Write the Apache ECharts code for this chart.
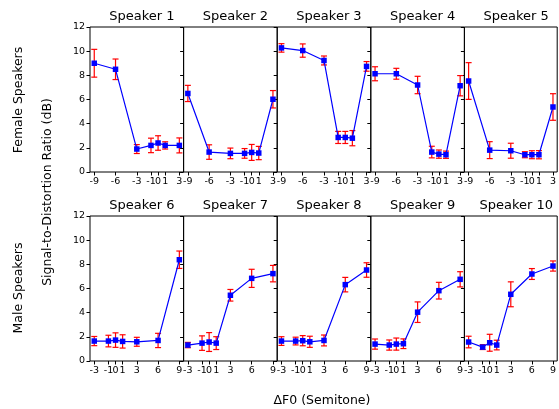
<!DOCTYPE html>
<html>
<head>
<meta charset="utf-8">
<script src="https://cdn.jsdelivr.net/npm/echarts@6/dist/echarts.min.js"></script>
<style>
  html, body { margin: 0; padding: 0; background: #fff; }
  #chart { width: 559px; height: 409px; }
</style>
</head>
<body>
<div id="chart"></div>
<script>
// semitone offsets
const xFemale = [-9, -6, -3, -1, 0, 1, 3];
const xMale = [-3, -1, 0, 1, 3, 6, 9];

// mean SDR (dB) and error half-width, per speaker
const spk1Mean = [9.0, 8.5, 1.9, 2.2, 2.4, 2.2, 2.2];
const spk1Err  = [1.15, 0.85, 0.37, 0.6, 0.6, 0.3, 0.62];
const spk2Mean = [6.5, 1.65, 1.54, 1.54, 1.62, 1.57, 6.02];
const spk2Err  = [0.67, 0.6, 0.44, 0.4, 0.66, 0.55, 0.72];
const spk3Mean = [10.27, 10.05, 9.23, 2.86, 2.86, 2.8, 8.74];
const spk3Err  = [0.35, 0.55, 0.37, 0.5, 0.5, 0.63, 0.4];
const spk4Mean = [8.13, 8.13, 7.2, 1.65, 1.48, 1.43, 7.14];
const spk4Err  = [0.58, 0.45, 0.72, 0.48, 0.34, 0.3, 0.84];
const spk5Mean = [7.53, 1.81, 1.76, 1.43, 1.43, 1.43, 5.38];
const spk5Err  = [1.52, 0.7, 0.62, 0.25, 0.33, 0.34, 1.1];
const spk6Mean = [1.65, 1.65, 1.73, 1.62, 1.59, 1.7, 8.38];
const spk6Err  = [0.38, 0.48, 0.6, 0.55, 0.37, 0.59, 0.72];
const spk7Mean = [1.32, 1.48, 1.57, 1.48, 5.44, 6.84, 7.23];
const spk7Err  = [0.22, 0.6, 0.78, 0.53, 0.48, 0.75, 0.68];
const spk8Mean = [1.65, 1.65, 1.68, 1.59, 1.7, 6.32, 7.53];
const spk8Err  = [0.36, 0.32, 0.42, 0.46, 0.45, 0.6, 0.6];
const spk9Mean = [1.4, 1.32, 1.4, 1.43, 4.04, 5.82, 6.76];
const spk9Err  = [0.42, 0.42, 0.5, 0.4, 0.85, 0.69, 0.63];
const spk10Mean = [1.57, 1.15, 1.51, 1.32, 5.52, 7.2, 7.86];
const spk10Err  = [0.48, 0.2, 0.7, 0.4, 1.03, 0.45, 0.42];

const panels = [
  { name: "Speaker 1", x: xFemale, mean: spk1Mean, err: spk1Err },
  { name: "Speaker 2", x: xFemale, mean: spk2Mean, err: spk2Err },
  { name: "Speaker 3", x: xFemale, mean: spk3Mean, err: spk3Err },
  { name: "Speaker 4", x: xFemale, mean: spk4Mean, err: spk4Err },
  { name: "Speaker 5", x: xFemale, mean: spk5Mean, err: spk5Err },
  { name: "Speaker 6", x: xMale, mean: spk6Mean, err: spk6Err },
  { name: "Speaker 7", x: xMale, mean: spk7Mean, err: spk7Err },
  { name: "Speaker 8", x: xMale, mean: spk8Mean, err: spk8Err },
  { name: "Speaker 9", x: xMale, mean: spk9Mean, err: spk9Err },
  { name: "Speaker 10", x: xMale, mean: spk10Mean, err: spk10Err },
];

const FONT = "DejaVu Sans";
const panelLeft = 90;
const panelW = 93.6;
const rowTop = [27, 216];
const rowH = 145;

const chart = echarts.init(document.getElementById("chart"), null, { renderer: "canvas" });

const grids = [], xAxes = [], yAxes = [], series = [], titles = [];

panels.forEach((p, i) => {
  const row = Math.floor(i / 5);
  const col = i % 5;
  const left = panelLeft + col * panelW;
  const xmin = p.x[0] - 0.6;
  const xmax = p.x[p.x.length - 1] + 0.6;

  grids.push({
    left: left, top: rowTop[row], width: panelW, height: rowH,
    show: true, borderColor: "#000", borderWidth: 1, backgroundColor: "transparent",
  });
  titles.push({
    text: p.name, left: left + panelW / 2, top: rowTop[row] - 22, textAlign: "center",
    textStyle: { fontFamily: FONT, fontSize: 13, fontWeight: "normal", color: "#000" },
  });
  xAxes.push({
    type: "value", gridIndex: i, min: xmin, max: xmax,
    axisLine: { show: false, onZero: false },
    splitLine: { show: false },
    axisTick: { show: true, customValues: p.x, length: 3.5, lineStyle: { color: "#000" } },
    axisLabel: {
      customValues: p.x, margin: 5, color: "#000", fontFamily: FONT, fontSize: 9.5,
      showMinLabel: true, showMaxLabel: true, hideOverlap: false,
    },
  });
  yAxes.push({
    type: "value", gridIndex: i, min: 0, max: 12, interval: 2,
    axisLine: { show: false, onZero: false },
    splitLine: { show: false },
    axisTick: { show: true, length: 3.5, lineStyle: { color: "#000" } },
    axisLabel: { show: col === 0, margin: 5, color: "#000", fontFamily: FONT, fontSize: 9.5 },
  });

  const bars = p.x.map((x, k) => [x, p.mean[k] - p.err[k], p.mean[k] + p.err[k]]);
  series.push({
    type: "custom", xAxisIndex: i, yAxisIndex: i, z: 2,
    data: bars,
    encode: { x: 0, y: [1, 2] },
    renderItem: (params, api) => {
      const lo = api.coord([api.value(0), api.value(1)]);
      const hi = api.coord([api.value(0), api.value(2)]);
      const cap = 3;
      const style = { stroke: "#ff0000", lineWidth: 1.2 };
      return {
        type: "group",
        children: [
          { type: "line", shape: { x1: lo[0], y1: lo[1], x2: hi[0], y2: hi[1] }, style },
          { type: "line", shape: { x1: lo[0] - cap, y1: lo[1], x2: lo[0] + cap, y2: lo[1] }, style },
          { type: "line", shape: { x1: hi[0] - cap, y1: hi[1], x2: hi[0] + cap, y2: hi[1] }, style },
        ],
      };
    },
  });
  series.push({
    type: "line", xAxisIndex: i, yAxisIndex: i, z: 3,
    data: p.x.map((x, k) => [x, p.mean[k]]),
    symbol: "rect", symbolSize: 5.5,
    itemStyle: { color: "#0000ff" },
    lineStyle: { color: "#0000ff", width: 1.2 },
    animation: false,
  });
});

const gText = (text, x, y, rot, size) => ({
  type: "text", x: x, y: y, rotation: rot,
  style: { text: text, fill: "#000", font: size + "px '" + FONT + "'", textAlign: "center", textVerticalAlign: "middle" },
});

chart.setOption({
  animation: false,
  title: titles,
  grid: grids,
  xAxis: xAxes,
  yAxis: yAxes,
  series: series,
  graphic: [
    gText("Female Speakers", 19, 100, Math.PI / 2, 12.5),
    gText("Male Speakers", 19, 288, Math.PI / 2, 12.5),
    gText("Signal-to-Distortion Ratio (dB)", 48, 192, Math.PI / 2, 12.5),
    gText("ΔF0 (Semitone)", 322, 401, 0, 12.5),
  ],
});
</script>
</body>
</html>
